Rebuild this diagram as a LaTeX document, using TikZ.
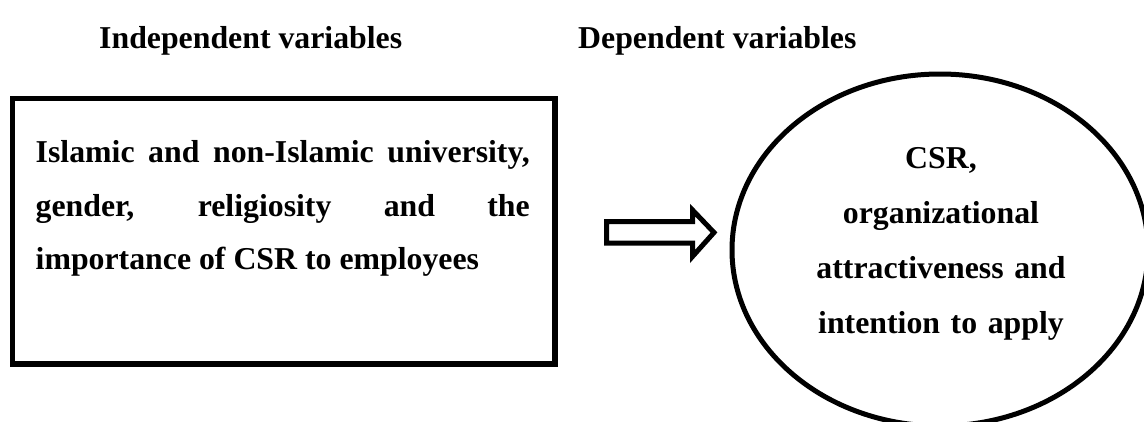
\documentclass[tikz,border=0pt]{standalone}
\usepackage{fontspec}
\setmainfont{Liberation Serif}
\usetikzlibrary{shapes.geometric}
\begin{document}
\begin{tikzpicture}[x=1pt,y=-1pt,
  heading/.style={anchor=base west, inner sep=0pt,
    font=\bfseries\fontsize{31.8pt}{38pt}\selectfont},
  boxtext/.style={inner sep=0pt, text width=494pt, align=justify,
    font=\bfseries\fontsize{31.8pt}{53.5pt}\selectfont},
  ovaltext/.style={inner sep=0pt, text width=330pt, align=center,
    font=\bfseries\fontsize{31.8pt}{55pt}\selectfont},
  outline/.style={draw=black, line width=5pt, outer sep=0pt}]
\useasboundingbox (0,0) rectangle (1144,421);
\clip (0,0) rectangle (1144,421);

% column headings
\node[heading] (ivhead) at (99,48) {Independent variables};
\node[heading] (dvhead) at (578,48) {Dependent variables};

% independent variables box
\node[outline, line width=5.5pt, anchor=north west, inner sep=0pt,
      minimum width=542.5pt, minimum height=265.5pt] (iv) at (12.5,98.5) {};
\node[boxtext, anchor=base west] (ivtext) at (35.5,162.7)
  {Islamic and non-Islamic university,\linebreak
   gender, religiosity and the\linebreak
   importance of CSR to employees};

% dependent variables oval
\node[outline, ellipse, inner sep=0pt,
      minimum width=416pt, minimum height=352pt] (dv) at (940,250) {};
\node[ovaltext, anchor=base] (dvtext) at (941,168)
  {CSR,\\ organizational\\ attractiveness and\\ intention to apply};

% block arrow between the two
\coordinate (tailtop) at (606.5,221.5);
\coordinate (tailbot) at (606.5,243);
\coordinate (tip) at (714,232.5);
\draw[outline, line join=miter]
  (tailtop) -- (692.5,221.5) -- (692.5,210) -- (tip)
  -- (692.5,256.5) -- (692.5,243) -- (tailbot) -- cycle;
\end{tikzpicture}
\end{document}
